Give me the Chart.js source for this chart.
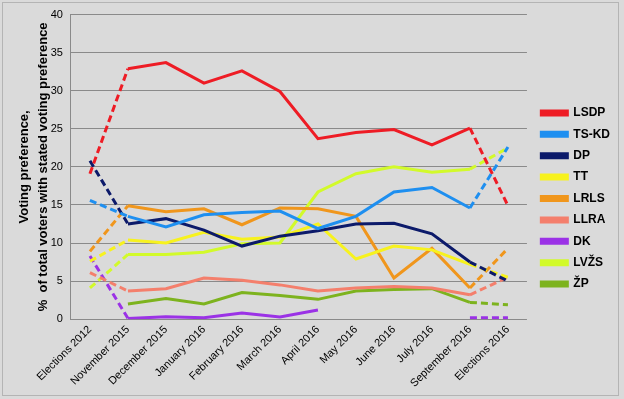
<!DOCTYPE html>
<html>
<head>
<meta charset="utf-8">
<script src="https://cdn.jsdelivr.net/npm/chart.js@4"></script>
<style>
html,body{margin:0;padding:0;background:#dadada;}
#wrap{position:absolute;left:0;top:0;width:624px;height:399px;}
#frame{position:absolute;left:2px;top:2px;width:615px;height:392px;border:1px solid #b4b4b4;pointer-events:none;}
</style>
</head>
<body>
<div id="wrap"><canvas id="chartPreferencias" width="624" height="399"></canvas><div id="frame"></div></div>
<script>
var etiquetas=["Elections 2012","November 2015","December 2015","January 2016","February 2016","March 2016","April 2016","May 2016","June 2016","July 2016","September 2016","Elections 2016"];
var yTicks=[0,5,10,15,20,25,30,35,40];

var lsdp=[19.1,32.9,33.7,31.0,32.6,29.9,23.7,24.5,24.9,22.9,25.1,14.9];
var tskd=[15.6,13.5,12.1,13.7,14.0,14.2,11.9,13.5,16.7,17.3,14.6,22.6];
var dp  =[20.8,12.5,13.2,11.7,9.6,10.9,11.6,12.5,12.6,11.2,7.5,5.0];
var tt  =[7.6,10.4,10.0,11.4,10.5,10.8,12.5,7.9,9.6,9.1,7.2,5.5];
var lrls=[8.9,14.9,14.1,14.5,12.4,14.6,14.5,13.5,5.4,9.3,4.1,9.3];
var llra=[6.1,3.7,4.0,5.4,5.1,4.5,3.7,4.1,4.3,4.1,3.2,5.5];
var dk  =[8.3,0.1,0.3,0.2,0.8,0.3,1.2,null,null,null,0.2,0.2];
var lvzs=[4.1,8.5,8.5,8.8,9.9,10.0,16.7,19.1,20.0,19.3,19.7,22.5];
var zp  =[null,2.0,2.7,2.0,3.5,3.1,2.6,3.7,3.9,4.0,2.2,1.9];

var partidos=["LSDP","TS-KD","DP","TT","LRLS","LLRA","DK","LVŽS","ŽP"];
var series=[lsdp,tskd,dp,tt,lrls,llra,dk,lvzs,zp];
var colores=["#ee1c25","#1e8ff0","#0c1a6a","#f7f21e","#f0961c","#f47f6c","#9b32e6","#d2fa2a","#7db31e"];

var ultimo=etiquetas.length-1;
function punteado(ctx){
	if(ctx.p0DataIndex===0 || ctx.p1DataIndex===ultimo) return [7,4];
	return undefined;
}

var datasets=[];
for(var i=0;i<partidos.length;i++){
	datasets.push({
		label:partidos[i],
		data:series[i],
		borderColor:colores[i],
		backgroundColor:colores[i],
		borderWidth:3,
		pointRadius:0,
		tension:0,
		spanGaps:false,
		segment:{borderDash:punteado}
	});
}

new Chart(document.getElementById("chartPreferencias"),{
	type:'line',
	data:{labels:etiquetas,datasets:datasets},
	options:{
		responsive:false,
		animation:false,
		layout:{padding:{left:15,right:4,top:3,bottom:5}},
		plugins:{
			legend:{
				position:'right',
				labels:{
					boxWidth:26,
					boxHeight:4,
					padding:9.4,
					color:'#000',
					font:{family:'Liberation Sans, Arial',size:12,weight:'bold'}
				}
			},
			tooltip:{enabled:false}
		},
		scales:{
			x:{
				offset:true,
				grid:{display:false,drawTicks:false},
				border:{display:false},
				ticks:{
					maxRotation:45,minRotation:45,autoSkip:false,
					color:'#000',padding:4,
					font:{family:'Liberation Sans, Arial',size:11}
				}
			},
			y:{
				min:0,max:40,
				afterBuildTicks:function(axis){axis.ticks=yTicks.map(function(v){return {value:v};});},
				grid:{color:'#8a8a8a',lineWidth:1,drawTicks:false},
				border:{display:true,color:'#8a8a8a'},
				ticks:{
					color:'#000',padding:8,
					font:{family:'Liberation Sans, Arial',size:11}
				},
				title:{
					display:true,
					text:["Voting preference,","%  of total voters with stated voting preference"],
					color:'#000',
					padding:{top:0,bottom:-10},
					font:{family:'Liberation Sans, Arial',size:13,weight:'bold',lineHeight:1.45}
				}
			},
			margen:{
				position:'right',
				grid:{display:false,drawTicks:false},
				border:{display:false},
				ticks:{display:false},
				afterFit:function(s){s.width=5;}
			}
		}
	}
});
</script>
</body>
</html>
